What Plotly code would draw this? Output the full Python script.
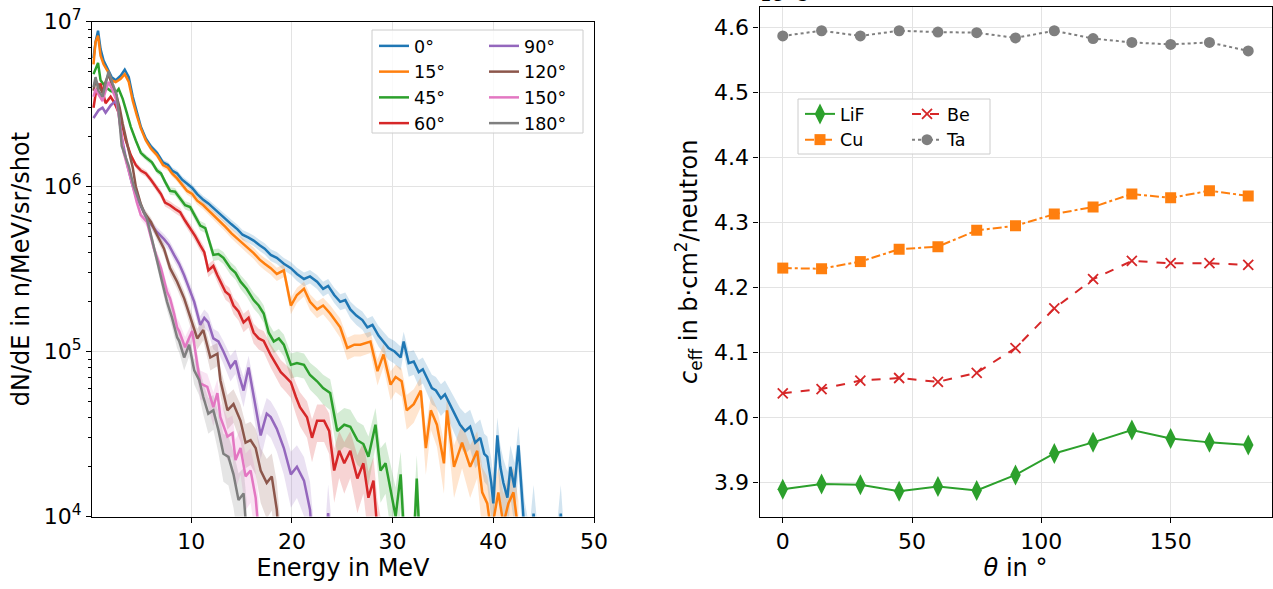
import numpy as np
import plotly.graph_objects as go

W, H = 1273, 589

# ---------------- left panel data: neutron spectra ----------------
ANGLE_LABELS = ["0°", "15°", "45°", "60°", "90°", "120°", "150°", "180°"]
COLORS = ["#1f77b4", "#ff7f0e", "#2ca02c", "#d62728",
          "#9467bd", "#8c564b", "#e377c2", "#7f7f7f"]

E_0 = [0.3, 0.5, 0.75, 1.0, 1.3, 1.7, 2.1, 2.5, 3.0, 3.4, 3.8, 4.2, 4.6, 5.0, 5.5, 6.0, 6.6, 7.2, 7.7, 8.1,
       8.6, 9.1, 9.6, 10.1, 10.6, 11.2, 11.7, 12.3, 12.9, 13.4, 14.0, 14.6, 15.1, 15.7, 16.2, 16.8, 17.3, 17.9, 18.5, 19.2,
       19.9, 20.5, 21.2, 21.8, 22.5, 23.1, 23.6, 24.2, 24.8, 25.3, 25.8, 26.4, 27.0, 27.5, 28.0, 28.6, 29.1, 29.6, 30.2, 30.8,
       31.1, 31.6, 32.1, 32.6, 33.0, 33.4, 33.9, 34.3, 34.8, 35.2, 35.7, 36.2, 36.7, 37.2, 37.7, 38.2, 38.7, 39.1, 39.4, 39.8,
       40.0, 40.4, 40.7, 41.0, 41.4, 41.7, 42.1, 42.5, 42.8, 43.1, 43.6, 44.0, 44.4, 46.3, 46.7, 47.0]
N_0 = [6.0e6, 7.5e6, 8.8e6, 6.8e6, 5.8e6, 5.2e6, 4.6e6, 4.4e6, 4.7e6, 5.1e6, 4.6e6, 3.5e6, 2.8e6, 2.3e6, 1.95e6, 1.75e6, 1.6e6, 1.4e6, 1.35e6, 1.25e6,
       1.2e6, 1.1e6, 1.04e6, 9.8e5, 9.0e5, 8.3e5, 7.9e5, 7.3e5, 6.8e5, 6.4e5, 5.9e5, 5.5e5, 5.1e5, 4.9e5, 4.7e5, 4.4e5, 4.2e5, 3.85e5, 3.7e5, 3.4e5,
       3.2e5, 2.95e5, 2.75e5, 2.85e5, 2.65e5, 2.4e5, 2.5e5, 2.2e5, 2.0e5, 2.05e5, 1.8e5, 1.65e5, 1.55e5, 1.4e5, 1.45e5, 1.25e5, 1.15e5, 1.05e5, 1.0e5, 9.2e4,
       1.15e5, 8.5e4, 8.7e4, 7.5e4, 7.8e4, 6.9e4, 6.0e4, 5.8e4, 5.2e4, 5.5e4, 4.8e4, 4.2e4, 3.6e4, 3.3e4, 3.5e4, 2.8e4, 3.0e4, 2.4e4, 2.3e4, 1.6e4,
       1.2e4, 3.1e4, 2.0e4, 1.6e4, 1.3e4, 2.0e4, 1.5e4, 2.7e4, 1.5e4, 8e3, 5e3, 1.04e4, 5e3, 5e3, 1.04e4, 5e3]

E_15 = [0.3, 0.5, 0.75, 1.0, 1.3, 1.7, 2.1, 2.5, 3.0, 3.4, 3.8, 4.2, 4.6, 5.0, 5.5, 6.0, 6.6, 7.2, 7.7, 8.1,
        8.6, 9.1, 9.6, 10.1, 10.6, 11.2, 11.7, 12.3, 12.9, 13.4, 14.0, 14.6, 15.1, 15.7, 16.2, 16.8, 17.3, 17.9, 18.5, 19.2,
        19.9, 20.5, 21.2, 21.8, 22.5, 23.1, 23.8, 24.3, 24.8, 25.5, 26.2, 26.8, 27.3, 27.8, 28.5, 29.1, 29.8, 30.3, 30.9, 31.4,
        32.1, 32.8, 33.3, 33.8, 34.4, 35.1, 35.4, 36.1, 36.9, 37.7, 38.4, 38.9, 39.4, 39.8, 40.5, 41.0, 41.5, 42.0, 42.5]
N_15 = [5.5e6, 7.5e6, 8.2e6, 6.2e6, 5.5e6, 5.0e6, 4.4e6, 4.3e6, 4.5e6, 4.8e6, 4.3e6, 3.3e6, 2.7e6, 2.25e6, 1.9e6, 1.7e6, 1.55e6, 1.35e6, 1.3e6, 1.2e6,
        1.12e6, 1.02e6, 9.4e5, 9.0e5, 8.2e5, 7.7e5, 7.2e5, 6.6e5, 6.1e5, 5.7e5, 5.2e5, 4.8e5, 4.5e5, 4.2e5, 3.95e5, 3.6e5, 3.4e5, 3.2e5, 2.95e5, 3.1e5,
        1.9e5, 2.2e5, 2.4e5, 2.0e5, 1.8e5, 1.9e5, 1.7e5, 1.55e5, 1.4e5, 1.05e5, 1.1e5, 1.1e5, 1.12e5, 1.15e5, 7.6e4, 9.6e4, 6.3e4, 7.0e4, 6.6e4, 4.4e4,
        4.8e4, 5.8e4, 2.6e4, 4.4e4, 3.6e4, 2.1e4, 4.4e4, 2.0e4, 2.8e4, 2.0e4, 2.5e4, 1.4e4, 1.2e4, 8e3, 1.4e4, 9e3, 1.2e4, 1.4e4, 8e3]

E_45 = [0.3, 0.5, 0.75, 1.0, 1.5, 2.0, 2.5, 2.8, 3.2, 3.6, 4.0, 4.5, 5.0, 5.5, 6.1, 6.6, 7.0, 7.4, 7.9, 8.4,
        8.9, 9.4, 9.9, 10.4, 10.9, 11.4, 11.8, 12.2, 12.7, 13.2, 13.9, 14.4, 14.9, 15.5, 16.2, 16.7, 17.2, 17.7, 18.2, 18.7,
        19.2, 19.9, 20.5, 21.2, 21.8, 22.5, 23.1, 23.8, 24.5, 25.2, 25.8, 26.5, 27.1, 27.6, 28.3, 28.8, 29.3, 29.8, 30.3, 30.8,
        31.3, 32.0, 32.4, 32.8]
N_45 = [4.8e6, 5.2e6, 5.6e6, 4.4e6, 4.0e6, 3.8e6, 3.7e6, 3.9e6, 3.4e6, 2.8e6, 2.3e6, 1.9e6, 1.6e6, 1.5e6, 1.4e6, 1.25e6, 1.2e6, 1.07e6, 9.4e5, 9.3e5,
        8.4e5, 7.7e5, 7.5e5, 6.6e5, 5.8e5, 5.6e5, 4.6e5, 3.85e5, 3.9e5, 3.7e5, 3.2e5, 3.0e5, 2.65e5, 2.4e5, 2.05e5, 1.9e5, 1.7e5, 1.3e5, 1.15e5, 1.2e5,
        1.1e5, 8.3e4, 8.5e4, 8.3e4, 7.2e4, 6.6e4, 6.0e4, 5.6e4, 3.3e4, 3.6e4, 3.5e4, 2.9e4, 2.75e4, 2.3e4, 3.6e4, 1.9e4, 2.1e4, 1.45e4, 1.0e4, 1.8e4,
        5e3, 5e3, 1.7e4, 5e3]

E_60 = [0.3, 0.5, 0.75, 1.0, 1.5, 2.0, 2.4, 2.8, 3.2, 3.5, 4.0, 4.5, 5.0, 5.5, 6.0, 6.5, 7.0, 7.4, 7.9, 8.4,
        8.9, 9.4, 9.9, 10.4, 10.9, 11.3, 11.7, 12.2, 12.6, 13.0, 13.4, 13.8, 14.2, 14.7, 15.2, 15.7, 16.2, 16.7, 17.2, 17.9,
        18.4, 18.9, 19.4, 19.9, 20.4, 20.8, 21.5, 22.0, 22.5, 23.2, 23.7, 24.2, 24.7, 25.2, 25.8, 26.5, 27.1, 27.6, 28.1, 28.5,
        29.0]
N_60 = [3.0e6, 3.6e6, 4.0e6, 4.2e6, 3.2e6, 3.5e6, 3.2e6, 2.8e6, 2.3e6, 1.9e6, 1.55e6, 1.35e6, 1.25e6, 1.2e6, 1.1e6, 1.0e6, 9.0e5, 8.0e5, 7.7e5, 7.3e5,
        7.0e5, 6.2e5, 5.6e5, 5.0e5, 4.4e5, 4.0e5, 3.1e5, 3.3e5, 2.9e5, 2.6e5, 2.3e5, 2.2e5, 1.9e5, 1.75e5, 1.5e5, 1.6e5, 1.3e5, 1.2e5, 1.16e5, 9.5e4,
        8.5e4, 7.5e4, 7.0e4, 6.5e4, 5.3e4, 4.6e4, 4.0e4, 3.0e4, 3.8e4, 3.8e4, 3.3e4, 1.9e4, 2.5e4, 2.1e4, 2.5e4, 1.7e4, 2.1e4, 1.3e4, 1.65e4, 8e3,
        5e3]

E_90 = [0.3, 0.5, 0.8, 1.2, 1.5, 2.0, 2.5, 2.8, 3.1, 3.6, 4.1, 4.5, 5.0, 5.6, 6.1, 6.6, 7.3, 7.8, 8.3, 8.8,
        9.3, 9.8, 10.3, 10.9, 11.3, 11.7, 12.2, 12.7, 13.2, 13.9, 14.4, 14.8, 15.2, 15.7, 16.2, 16.6, 16.9, 17.5, 17.9, 18.5,
        19.2, 19.9, 20.5, 21.2, 21.8, 22.2, 23.3, 23.6, 24.0]
N_90 = [2.6e6, 2.7e6, 2.9e6, 3.0e6, 2.8e6, 3.1e6, 3.3e6, 2.8e6, 2.0e6, 1.4e6, 1.05e6, 8.8e5, 7.6e5, 6.4e5, 5.8e5, 5.3e5, 4.8e5, 4.4e5, 3.85e5, 3.4e5,
        2.9e5, 2.4e5, 2.0e5, 1.45e5, 1.6e5, 1.5e5, 1.2e5, 1.15e5, 1.0e5, 8.0e4, 8.8e4, 7.0e4, 5.8e4, 8.0e4, 5.3e4, 4.0e4, 3.1e4, 4.2e4, 4.0e4, 3.4e4,
        2.6e4, 1.8e4, 2.0e4, 1.65e4, 1.1e4, 5e3, 5e3, 1.05e4, 5e3]

E_120 = [0.3, 0.5, 0.8, 1.2, 1.5, 1.8, 2.2, 2.6, 2.9, 3.2, 3.8, 4.2, 4.5, 5.0, 5.3, 6.0, 6.6, 7.3, 7.9, 8.6,
         9.3, 9.9, 10.6, 11.2, 11.9, 12.6, 12.9, 13.6, 14.2, 14.9, 15.4, 15.9, 16.4, 16.9, 17.5, 18.0, 18.5, 18.9]
N_120 = [3.8e6, 4.4e6, 4.1e6, 3.7e6, 4.3e6, 4.8e6, 4.0e6, 3.5e6, 3.0e6, 2.4e6, 1.65e6, 1.3e6, 1.0e6, 7.8e5, 7.0e5, 6.1e5, 5.1e5, 4.2e5, 3.2e5, 2.65e5,
         2.1e5, 1.6e5, 1.2e5, 1.35e5, 9.2e4, 9.7e4, 6.7e4, 4.4e4, 4.8e4, 3.8e4, 2.8e4, 2.9e4, 2.6e4, 1.9e4, 1.6e4, 1.75e4, 1.1e4, 5e3]

E_150 = [0.3, 0.5, 0.8, 1.2, 1.5, 1.8, 2.2, 2.6, 3.0, 3.3, 4.0, 4.6, 5.0, 5.6, 6.3, 7.0, 7.6, 7.9, 8.3, 8.6,
         8.8, 9.4, 10.1, 10.6, 10.9, 11.6, 12.2, 12.6, 12.9, 13.6, 14.1, 14.4, 14.9, 15.4, 15.9, 16.4, 16.7]
N_150 = [3.5e6, 3.9e6, 3.6e6, 3.3e6, 3.8e6, 4.3e6, 3.8e6, 3.3e6, 2.2e6, 1.6e6, 1.12e6, 8.0e5, 6.7e5, 6.1e5, 4.2e5, 3.2e5, 2.3e5, 2.1e5, 1.7e5, 1.4e5,
         1.33e5, 1.06e5, 1.33e5, 8.4e4, 6.4e4, 6.1e4, 4.6e4, 5.6e4, 4.0e4, 3.05e4, 3.2e4, 2.2e4, 2.6e4, 1.75e4, 1.9e4, 1.3e4, 8e3]

E_180 = [0.3, 0.5, 0.8, 1.2, 1.5, 1.8, 2.2, 2.6, 2.8, 3.1, 3.8, 4.3, 5.0, 5.6, 6.1, 6.6, 7.1, 7.6, 8.1, 8.6,
         8.8, 9.3, 9.8, 10.3, 10.8, 11.2, 11.7, 12.2, 12.7, 13.2, 13.7, 14.2, 14.7, 15.2, 15.5]
N_180 = [4.0e6, 4.6e6, 3.8e6, 3.5e6, 4.2e6, 5.0e6, 4.2e6, 3.6e6, 2.8e6, 1.76e6, 1.33e6, 1.0e6, 7.7e5, 6.4e5, 4.8e5, 3.5e5, 2.66e5, 2.0e5, 1.6e5, 1.22e5,
         1.16e5, 9.2e4, 1.1e5, 7.7e4, 6.7e4, 5.3e4, 4.2e4, 4.4e4, 3.35e4, 2.4e4, 2.3e4, 1.8e4, 1.26e4, 1.38e4, 8e3]

SPECTRA_E = [E_0, E_15, E_45, E_60, E_90, E_120, E_150, E_180]
SPECTRA_N = [N_0, N_15, N_45, N_60, N_90, N_120, N_150, N_180]
# statistical uncertainty scale of the shaded bands (relative error at 1e4 counts)
BAND_REL_AT_1E4 = 0.5

# ---------------- right panel data: c_eff vs angle (x 1e-3) ----------------
THETA = [0, 15, 30, 45, 60, 75, 90, 105, 120, 135, 150, 165, 180]
C_LIF = [3.890, 3.898, 3.897, 3.887, 3.894, 3.888, 3.912, 3.945, 3.962, 3.981, 3.968, 3.962, 3.958]
C_CU = [4.230, 4.229, 4.240, 4.259, 4.263, 4.288, 4.295, 4.313, 4.324, 4.344, 4.338, 4.349, 4.341]
C_BE = [4.0375, 4.044, 4.057, 4.061, 4.055, 4.069, 4.107, 4.168, 4.213, 4.241, 4.2375, 4.2375, 4.235]
C_TA = [4.587, 4.595, 4.587, 4.595, 4.593, 4.592, 4.584, 4.595, 4.583, 4.577, 4.574, 4.577, 4.564]


def rgba(hexc, a):
    h = hexc.lstrip("#")
    return "rgba(%d,%d,%d,%.2f)" % (int(h[0:2], 16), int(h[2:4], 16), int(h[4:6], 16), a)


def px(x):
    return x / W


def py(y):
    return 1 - y / H


FONT = "DejaVu Sans"
TICK_SIZE = 22
TITLE_SIZE = 24
LEG_SIZE = 17.5
fig = go.Figure()

# shaded bands first (below lines)
for e, n, c in zip(SPECTRA_E, SPECTRA_N, COLORS):
    n = np.asarray(n, float)
    rel = BAND_REL_AT_1E4 * np.sqrt(1e4 / n)
    up = n * (1 + rel)
    lo = np.maximum(n * (1 - rel), 1e3)
    fig.add_trace(go.Scatter(x=e, y=up, mode="lines", line=dict(width=0, color=c),
                             showlegend=False, hoverinfo="skip", xaxis="x", yaxis="y"))
    fig.add_trace(go.Scatter(x=e, y=lo, mode="lines", line=dict(width=0, color=c),
                             fill="tonexty", fillcolor=rgba(c, 0.2),
                             showlegend=False, hoverinfo="skip", xaxis="x", yaxis="y"))

for i, (e, n, c, lab) in enumerate(zip(SPECTRA_E, SPECTRA_N, COLORS, ANGLE_LABELS)):
    fig.add_trace(go.Scatter(x=e, y=n, mode="lines", name=lab,
                             line=dict(color=c, width=2.5),
                             legend="legend" if i < 4 else "legend2",
                             xaxis="x", yaxis="y"))

# right panel
RIGHT = [
    ("LiF", C_LIF, "#2ca02c", "solid", "diamond-tall", 15, "legend3"),
    ("Cu", C_CU, "#ff7f0e", "dashdot", "square", 11, "legend3"),
    ("Be", C_BE, "#d62728", "dash", "x-thin", 10, "legend4"),
    ("Ta", C_TA, "#7f7f7f", "dot", "circle", 11, "legend4"),
]
for name, vals, c, dash, sym, size, lg in RIGHT:
    mk = dict(symbol=sym, size=size, color=c)
    if sym == "x-thin":
        mk["line"] = dict(color=c, width=1.8)
    fig.add_trace(go.Scatter(x=THETA, y=vals, mode="lines+markers", name=name,
                             line=dict(color=c, width=2, dash=dash), marker=mk,
                             legend=lg, xaxis="x2", yaxis="y2"))

axis_common = dict(showline=True, linecolor="black", linewidth=1.3, mirror=True,
                   ticks="outside", ticklen=5, tickwidth=1.2, tickcolor="black",
                   showgrid=True, gridcolor="#e3e3e3", gridwidth=1, zeroline=False,
                   tickfont=dict(family=FONT, size=TICK_SIZE, color="black"),
                   automargin=False)


def leg(x, y):
    return dict(x=px(x), y=py(y), xanchor="left", yanchor="top", traceorder="normal",
                bgcolor="rgba(0,0,0,0)", font=dict(family=FONT, size=LEG_SIZE),
                tracegroupgap=0, itemwidth=30)


fig.update_layout(
    width=W, height=H,
    margin=dict(l=0, r=0, t=0, b=0),
    paper_bgcolor="white", plot_bgcolor="white",
    font=dict(family=FONT, size=16, color="black"),
    xaxis=dict(domain=[px(92), px(594)], range=[0.15, 50], tickvals=[10, 20, 30, 40, 50],
               title=dict(text="Energy in MeV", font=dict(family=FONT, size=TITLE_SIZE), standoff=5),
               anchor="y", **axis_common),
    yaxis=dict(domain=[py(516.5), py(21.5)], type="log", range=[4, 7],
               tickvals=[1e4, 1e5, 1e6, 1e7],
               ticktext=["10<sup>4</sup>", "10<sup>5</sup>", "10<sup>6</sup>", "10<sup>7</sup>"],
               minor=dict(ticks="outside", ticklen=3, tickcolor="black", tickwidth=1,
                          tickvals=[m * 10 ** d for d in (4, 5, 6) for m in range(2, 10)],
                          showgrid=False),
               title=dict(text="dN/dE in n/MeV/sr/shot", font=dict(family=FONT, size=TITLE_SIZE), standoff=7),
               anchor="x", **axis_common),
    xaxis2=dict(domain=[px(759.5), px(1271.5)], range=[-9, 189], tickvals=[0, 50, 100, 150],
                title=dict(text="<i>θ</i> in °", font=dict(family=FONT, size=TITLE_SIZE), standoff=5),
                anchor="y2", **axis_common),
    yaxis2=dict(domain=[py(516.5), py(7)], range=[3.848, 4.6315],
                tickvals=[3.9, 4.0, 4.1, 4.2, 4.3, 4.4, 4.5, 4.6],
                ticktext=["3.9", "4.0", "4.1", "4.2", "4.3", "4.4", "4.5", "4.6"],
                title=dict(text="<i>c</i><sub>eff</sub> in b·cm<sup>2</sup>/neutron",
                           font=dict(family=FONT, size=TITLE_SIZE), standoff=9),
                anchor="x2", **axis_common),
    legend=leg(374, 28),
    legend2=leg(484, 28),
    legend3=leg(800, 96),
    legend4=leg(907, 96),
    shapes=[
        dict(type="rect", xref="paper", yref="paper", x0=px(372), x1=px(583), y0=py(133), y1=py(30),
             line=dict(color="#cccccc", width=1), fillcolor="rgba(255,255,255,0.8)", layer="above"),
        dict(type="rect", xref="paper", yref="paper", x0=px(798), x1=px(990), y0=py(154), y1=py(99),
             line=dict(color="#cccccc", width=1), fillcolor="rgba(255,255,255,0.8)", layer="above"),
    ],
    annotations=[
        dict(text="1e−3", xref="paper", yref="paper", x=px(758), y=py(7), xanchor="left",
             yanchor="bottom", showarrow=False, font=dict(family=FONT, size=18, color="black")),
    ],
)

fig.write_html("out.html")
